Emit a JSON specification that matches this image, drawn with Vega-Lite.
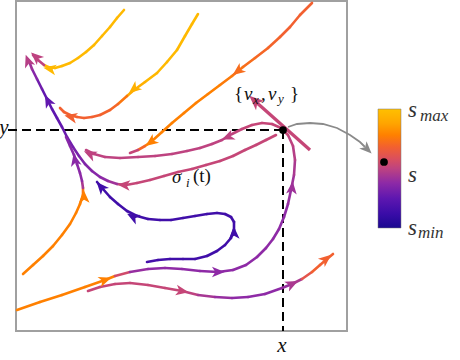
{
"$schema": "https://vega.github.io/schema/vega-lite/v6.json",
"width": 331, "height": 330,
"autosize": {"type": "none"},
"padding": {"left": 16, "top": 1, "right": 113, "bottom": 29},
"config": {"view": {"stroke": "#a0a0a0", "strokeWidth": 2}, "text": {"font": "Times New Roman, Liberation Serif, DejaVu Serif, serif"}},
"datasets": {
"guides": [{"x": 8, "y": 130, "x2": 283, "y2": 130}, {"x": 283, "y": 130, "x2": 283, "y2": 331}],
"curves": [
{"c":"A","i":0,"x":124,"y":10,"s":0.97},{"c":"A","i":1,"x":117,"y":18,"s":0.97},{"c":"A","i":2,"x":110,"y":27,"s":0.97},{"c":"A","i":3,"x":102,"y":36,"s":0.97},{"c":"A","i":4,"x":94,"y":45,"s":0.97},{"c":"A","i":5,"x":86,"y":52,"s":0.97},{"c":"A","i":6,"x":78,"y":58,"s":0.97},{"c":"A","i":7,"x":70,"y":63,"s":0.97},{"c":"A","i":8,"x":62,"y":66,"s":0.97},{"c":"A","i":9,"x":55,"y":68,"s":0.97},{"c":"A","i":10,"x":48,"y":67,"s":0.97},{"c":"A","i":11,"x":44,"y":65,"s":0.5},{"c":"A","i":12,"x":38,"y":60,"s":0.5},{"c":"A","i":13,"x":33,"y":55,"s":0.5},
{"c":"B","i":0,"x":198,"y":14,"s":0.97},{"c":"B","i":1,"x":192,"y":24,"s":0.97},{"c":"B","i":2,"x":185,"y":36,"s":0.97},{"c":"B","i":3,"x":177,"y":50,"s":0.97},{"c":"B","i":4,"x":167,"y":62,"s":0.97},{"c":"B","i":5,"x":157,"y":73,"s":0.96},{"c":"B","i":6,"x":145,"y":82,"s":0.93},{"c":"B","i":7,"x":134,"y":90,"s":0.9},{"c":"B","i":8,"x":127,"y":96,"s":0.75},{"c":"B","i":9,"x":118,"y":104,"s":0.7},{"c":"B","i":10,"x":110,"y":110,"s":0.69},{"c":"B","i":11,"x":100,"y":115,"s":0.68},{"c":"B","i":12,"x":92,"y":117,"s":0.68},{"c":"B","i":13,"x":84,"y":118,"s":0.68},{"c":"B","i":14,"x":77,"y":117,"s":0.68},{"c":"B","i":15,"x":70,"y":115,"s":0.68},{"c":"B","i":16,"x":64,"y":112,"s":0.68},{"c":"B","i":17,"x":60,"y":108,"s":0.68},
{"c":"C","i":0,"x":312,"y":3,"s":0.68},{"c":"C","i":1,"x":300,"y":15,"s":0.68},{"c":"C","i":2,"x":290,"y":27,"s":0.68},{"c":"C","i":3,"x":280,"y":37,"s":0.69},{"c":"C","i":4,"x":268,"y":48,"s":0.7},{"c":"C","i":5,"x":255,"y":58,"s":0.72},{"c":"C","i":6,"x":243,"y":67,"s":0.74},{"c":"C","i":7,"x":232,"y":76,"s":0.76},{"c":"C","i":8,"x":220,"y":85,"s":0.78},{"c":"C","i":9,"x":208,"y":94,"s":0.78},{"c":"C","i":10,"x":196,"y":103,"s":0.78},{"c":"C","i":11,"x":184,"y":113,"s":0.78},{"c":"C","i":12,"x":172,"y":123,"s":0.78},{"c":"C","i":13,"x":162,"y":132,"s":0.78},{"c":"C","i":14,"x":152,"y":141,"s":0.78},{"c":"C","i":15,"x":145,"y":146,"s":0.7},{"c":"C","i":16,"x":138,"y":150,"s":0.52},{"c":"C","i":17,"x":130,"y":153,"s":0.5},
{"c":"L","i":0,"x":17,"y":310,"s":0.78},{"c":"L","i":1,"x":40,"y":302,"s":0.78},{"c":"L","i":2,"x":62,"y":295,"s":0.78},{"c":"L","i":3,"x":85,"y":287,"s":0.78},{"c":"L","i":4,"x":105,"y":280,"s":0.78},{"c":"L","i":5,"x":115,"y":276,"s":0.55},{"c":"L","i":6,"x":130,"y":272,"s":0.4},{"c":"L","i":7,"x":148,"y":269,"s":0.38},{"c":"L","i":8,"x":165,"y":268,"s":0.38},{"c":"L","i":9,"x":182,"y":269,"s":0.38},{"c":"L","i":10,"x":200,"y":271,"s":0.38},{"c":"L","i":11,"x":218,"y":272,"s":0.38},{"c":"L","i":12,"x":233,"y":270,"s":0.38},{"c":"L","i":13,"x":246,"y":265,"s":0.38},{"c":"L","i":14,"x":257,"y":257,"s":0.38},{"c":"L","i":15,"x":266,"y":248,"s":0.38},{"c":"L","i":16,"x":273,"y":239,"s":0.38},{"c":"L","i":17,"x":279,"y":229,"s":0.38},{"c":"L","i":18,"x":284,"y":217,"s":0.38},{"c":"L","i":19,"x":288,"y":204,"s":0.4},{"c":"L","i":20,"x":291,"y":190,"s":0.42},{"c":"L","i":21,"x":294,"y":175,"s":0.45},{"c":"L","i":22,"x":295,"y":160,"s":0.48},{"c":"L","i":23,"x":293,"y":146,"s":0.5},{"c":"L","i":24,"x":288,"y":135,"s":0.52},{"c":"L","i":25,"x":281,"y":128,"s":0.52},{"c":"L","i":26,"x":272,"y":124,"s":0.52},{"c":"L","i":27,"x":262,"y":123,"s":0.52},{"c":"L","i":28,"x":252,"y":125,"s":0.52},{"c":"L","i":29,"x":242,"y":129,"s":0.51},{"c":"L","i":30,"x":232,"y":134,"s":0.5},{"c":"L","i":31,"x":222,"y":140,"s":0.5},{"c":"L","i":32,"x":212,"y":144,"s":0.5},{"c":"L","i":33,"x":200,"y":148,"s":0.5},{"c":"L","i":34,"x":187,"y":151,"s":0.5},{"c":"L","i":35,"x":172,"y":154,"s":0.5},{"c":"L","i":36,"x":155,"y":156,"s":0.5},{"c":"L","i":37,"x":138,"y":157,"s":0.5},{"c":"L","i":38,"x":120,"y":158,"s":0.5},{"c":"L","i":39,"x":105,"y":157,"s":0.5},{"c":"L","i":40,"x":94,"y":154,"s":0.5},{"c":"L","i":41,"x":86,"y":150,"s":0.5},
{"c":"E","i":0,"x":276,"y":135,"s":0.52},{"c":"E","i":1,"x":266,"y":140,"s":0.52},{"c":"E","i":2,"x":256,"y":145,"s":0.52},{"c":"E","i":3,"x":245,"y":150,"s":0.52},{"c":"E","i":4,"x":233,"y":156,"s":0.52},{"c":"E","i":5,"x":220,"y":161,"s":0.52},{"c":"E","i":6,"x":206,"y":165,"s":0.52},{"c":"E","i":7,"x":192,"y":169,"s":0.52},{"c":"E","i":8,"x":178,"y":172,"s":0.52},{"c":"E","i":9,"x":164,"y":176,"s":0.52},{"c":"E","i":10,"x":150,"y":180,"s":0.52},{"c":"E","i":11,"x":137,"y":183,"s":0.52},{"c":"E","i":12,"x":126,"y":185,"s":0.5},{"c":"E","i":13,"x":117,"y":184,"s":0.42},{"c":"E","i":14,"x":108,"y":181,"s":0.38},{"c":"E","i":15,"x":100,"y":177,"s":0.36},{"c":"E","i":16,"x":92,"y":171,"s":0.35},{"c":"E","i":17,"x":85,"y":164,"s":0.34},{"c":"E","i":18,"x":79,"y":156,"s":0.32},{"c":"E","i":19,"x":73,"y":147,"s":0.3},{"c":"E","i":20,"x":67,"y":137,"s":0.28},{"c":"E","i":21,"x":62,"y":127,"s":0.26},{"c":"E","i":22,"x":57,"y":118,"s":0.25},{"c":"E","i":23,"x":52,"y":109,"s":0.25},{"c":"E","i":24,"x":47,"y":99,"s":0.26},{"c":"E","i":25,"x":42,"y":89,"s":0.3},{"c":"E","i":26,"x":37,"y":79,"s":0.36},{"c":"E","i":27,"x":32,"y":69,"s":0.42},{"c":"E","i":28,"x":29,"y":61,"s":0.48},
{"c":"J","i":0,"x":23,"y":274,"s":0.78},{"c":"J","i":1,"x":33,"y":265,"s":0.78},{"c":"J","i":2,"x":43,"y":256,"s":0.78},{"c":"J","i":3,"x":53,"y":246,"s":0.78},{"c":"J","i":4,"x":62,"y":235,"s":0.78},{"c":"J","i":5,"x":70,"y":224,"s":0.78},{"c":"J","i":6,"x":76,"y":213,"s":0.78},{"c":"J","i":7,"x":80,"y":204,"s":0.78},{"c":"J","i":8,"x":83,"y":195,"s":0.75},{"c":"J","i":9,"x":83,"y":188,"s":0.45},{"c":"J","i":10,"x":82,"y":181,"s":0.38},{"c":"J","i":11,"x":80,"y":173,"s":0.37},{"c":"J","i":12,"x":77,"y":164,"s":0.37},{"c":"J","i":13,"x":74,"y":155,"s":0.37},{"c":"J","i":14,"x":70,"y":146,"s":0.36},{"c":"J","i":15,"x":66,"y":137,"s":0.34},
{"c":"K","i":0,"x":147,"y":262,"s":0.16},{"c":"K","i":1,"x":158,"y":260,"s":0.15},{"c":"K","i":2,"x":170,"y":259,"s":0.14},{"c":"K","i":3,"x":183,"y":259,"s":0.14},{"c":"K","i":4,"x":195,"y":259,"s":0.14},{"c":"K","i":5,"x":207,"y":256,"s":0.14},{"c":"K","i":6,"x":217,"y":251,"s":0.14},{"c":"K","i":7,"x":225,"y":245,"s":0.14},{"c":"K","i":8,"x":231,"y":238,"s":0.14},{"c":"K","i":9,"x":234,"y":230,"s":0.14},{"c":"K","i":10,"x":234,"y":222,"s":0.14},{"c":"K","i":11,"x":231,"y":217,"s":0.14},{"c":"K","i":12,"x":225,"y":214,"s":0.14},{"c":"K","i":13,"x":217,"y":213,"s":0.14},{"c":"K","i":14,"x":207,"y":214,"s":0.14},{"c":"K","i":15,"x":195,"y":216,"s":0.14},{"c":"K","i":16,"x":183,"y":218,"s":0.14},{"c":"K","i":17,"x":171,"y":220,"s":0.14},{"c":"K","i":18,"x":160,"y":220,"s":0.14},{"c":"K","i":19,"x":148,"y":219,"s":0.14},{"c":"K","i":20,"x":137,"y":216,"s":0.14},{"c":"K","i":21,"x":127,"y":211,"s":0.14},{"c":"K","i":22,"x":118,"y":204,"s":0.14},{"c":"K","i":23,"x":110,"y":197,"s":0.14},{"c":"K","i":24,"x":103,"y":189,"s":0.14},{"c":"K","i":25,"x":97,"y":182,"s":0.14},
{"c":"N","i":0,"x":88,"y":291,"s":0.52},{"c":"N","i":1,"x":100,"y":287,"s":0.52},{"c":"N","i":2,"x":115,"y":284,"s":0.52},{"c":"N","i":3,"x":130,"y":283,"s":0.52},{"c":"N","i":4,"x":148,"y":285,"s":0.52},{"c":"N","i":5,"x":165,"y":288,"s":0.52},{"c":"N","i":6,"x":182,"y":291,"s":0.5},{"c":"N","i":7,"x":198,"y":295,"s":0.44},{"c":"N","i":8,"x":215,"y":297,"s":0.4},{"c":"N","i":9,"x":232,"y":298,"s":0.38},{"c":"N","i":10,"x":248,"y":297,"s":0.38},{"c":"N","i":11,"x":265,"y":294,"s":0.38},{"c":"N","i":12,"x":282,"y":288,"s":0.4},{"c":"N","i":13,"x":292,"y":284,"s":0.45},{"c":"N","i":14,"x":302,"y":279,"s":0.62},{"c":"N","i":15,"x":312,"y":272,"s":0.68},{"c":"N","i":16,"x":320,"y":265,"s":0.68},{"c":"N","i":17,"x":327,"y":259,"s":0.68},{"c":"N","i":18,"x":333,"y":254,"s":0.68}
],
"arrows": [
{"x":50,"y":69,"a":-80,"s":0.97},{"x":36,"y":57,"a":-48,"s":0.5},{"x":28,"y":61,"a":-20,"s":0.48},{"x":48,"y":101,"a":-27,"s":0.26},
{"x":134,"y":89,"a":-129,"s":0.93},{"x":71,"y":117,"a":-78,"s":0.68},{"x":238,"y":71,"a":-127,"s":0.72},{"x":151,"y":142,"a":-127,"s":0.78},
{"x":90,"y":154,"a":-65,"s":0.5},{"x":228,"y":137,"a":-113,"s":0.5},{"x":124,"y":185,"a":-85,"s":0.52},{"x":84,"y":197,"a":-2,"s":0.78},
{"x":75,"y":160,"a":-12,"s":0.37},{"x":101,"y":187,"a":-41,"s":0.14},{"x":133,"y":217,"a":-62,"s":0.14},{"x":234,"y":233,"a":-2,"s":0.14},
{"x":105,"y":280,"a":71,"s":0.78},{"x":218,"y":272,"a":90,"s":0.38},{"x":292,"y":188,"a":6,"s":0.42},{"x":182,"y":291,"a":100,"s":0.52},
{"x":292,"y":284,"a":64,"s":0.45},{"x":326,"y":259,"a":51,"s":0.68}
],
"vel": [{"x":310,"y":150,"x2":256,"y2":102,"s":0.52}],
"velhead": [{"x":255,"y":101,"a":-48,"s":0.52}],
"gray": [{"i":0,"x":288,"y":127},{"i":1,"x":297,"y":124},{"i":2,"x":310,"y":123},{"i":3,"x":323,"y":124},{"i":4,"x":337,"y":128},{"i":5,"x":350,"y":135},{"i":6,"x":360,"y":142},{"i":7,"x":365,"y":147}],
"grayhead": [{"x":367,"y":149,"a":135}],
"colorbar": [{"x":378,"x2":401,"y":109,"y2":228}],
"dots": [{"x":283,"y":130},{"x":384,"y":162}],
"lab": [{"t":"y","x":4,"y":134},{"t":"x","x":282,"y":352}],
"italic": [{"t":"v","x":244,"y":100},{"t":"v","x":268,"y":100},{"t":"σ","x":172,"y":183}],
"upright": [{"t":"{","x":234,"y":100},{"t":",","x":261,"y":100},{"t":"}","x":290,"y":100},{"t":"(t)","x":193,"y":182}],
"subs": [{"t":"x","x":253,"y":104},{"t":"y","x":278,"y":103},{"t":"i","x":186,"y":187}],
"sbig": [{"t":"s","x":408,"y":117},{"t":"s","x":408,"y":182},{"t":"s","x":408,"y":235}],
"ssub": [{"t":"max","x":420,"y":121},{"t":"min","x":418,"y":238}]
},
"encoding": {
"x": {"field": "x", "type": "quantitative", "scale": {"domain": [16, 347], "nice": false, "zero": false}, "axis": null},
"y": {"field": "y", "type": "quantitative", "scale": {"domain": [1, 331], "reverse": true, "nice": false, "zero": false}, "axis": null}
},
"layer": [
{"data": {"name": "guides"}, "mark": {"type": "rule", "color": "black", "strokeWidth": 2, "strokeDash": [9, 5]},
 "encoding": {"x2": {"field": "x2"}, "y2": {"field": "y2"}}},
{"data": {"name": "curves"},
 "transform": [{"window": [{"op": "lead", "field": "x", "as": "xn"}, {"op": "lead", "field": "y", "as": "yn"}], "groupby": ["c"], "sort": [{"field": "i"}]}, {"filter": "datum.xn != null"}],
 "mark": {"type": "rule", "strokeWidth": 2.6, "strokeCap": "round"},
 "encoding": {"x2": {"field": "xn"}, "y2": {"field": "yn"},
  "color": {"field": "s", "type": "quantitative",
   "scale": {"domain": [0, 0.12, 0.25, 0.38, 0.5, 0.58, 0.68, 0.78, 0.88, 1], "range": ["#1a0890", "#3a0ca8", "#5e17b0", "#8e2aa6", "#be4380", "#da4f5e", "#f26030", "#ff8000", "#ffa500", "#ffc000"], "interpolate": "rgb"},
   "legend": null}}},
{"data": {"name": "vel"}, "mark": {"type": "rule", "strokeWidth": 3.2, "strokeCap": "butt"},
 "encoding": {"x2": {"field": "x2"}, "y2": {"field": "y2"}, "color": {"field": "s", "type": "quantitative", "legend": null}}},
{"data": {"name": "arrows"}, "mark": {"type": "point", "shape": "M0,-1L0.8,0.9L0,0.4L-0.8,0.9Z", "filled": true, "opacity": 1, "size": 180, "strokeWidth": 0},
 "encoding": {"color": {"field": "s", "type": "quantitative", "legend": null}, "angle": {"field": "a", "type": "quantitative", "scale": null}}},
{"data": {"name": "velhead"}, "mark": {"type": "point", "shape": "M0,-1L0.8,0.9L0,0.4L-0.8,0.9Z", "filled": true, "opacity": 1, "size": 240, "strokeWidth": 0},
 "encoding": {"color": {"field": "s", "type": "quantitative", "legend": null}, "angle": {"field": "a", "type": "quantitative", "scale": null}}},
{"data": {"name": "gray"}, "mark": {"type": "line", "color": "#8a8a8a", "strokeWidth": 1.8},
 "encoding": {"order": {"field": "i"}}},
{"data": {"name": "grayhead"}, "mark": {"type": "point", "shape": "M0,-1L0.8,0.9L0,0.4L-0.8,0.9Z", "filled": true, "opacity": 1, "size": 170, "color": "#8a8a8a", "strokeWidth": 0},
 "encoding": {"angle": {"field": "a", "type": "quantitative", "scale": null}}},
{"data": {"name": "colorbar"}, "mark": {"type": "rect", "stroke": "#7a7a7a", "strokeWidth": 0.5,
  "fill": {"gradient": "linear", "x1": 0, "y1": 1, "x2": 0, "y2": 0, "stops": [
   {"offset": 0, "color": "#1a0890"}, {"offset": 0.12, "color": "#3a0ca8"}, {"offset": 0.25, "color": "#5e17b0"}, {"offset": 0.38, "color": "#8e2aa6"}, {"offset": 0.5, "color": "#be4380"}, {"offset": 0.58, "color": "#da4f5e"}, {"offset": 0.68, "color": "#f26030"}, {"offset": 0.78, "color": "#ff8000"}, {"offset": 0.88, "color": "#ffa500"}, {"offset": 1, "color": "#ffc000"}]}},
 "encoding": {"x2": {"field": "x2"}, "y2": {"field": "y2"}}},
{"data": {"name": "dots"}, "mark": {"type": "point", "shape": "circle", "filled": true, "opacity": 1, "size": 60, "color": "black"}},
{"data": {"name": "lab"}, "mark": {"type": "text", "fontStyle": "italic", "fontSize": 21, "align": "center", "baseline": "alphabetic", "color": "#111"},
 "encoding": {"text": {"field": "t"}}},
{"data": {"name": "italic"}, "mark": {"type": "text", "fontStyle": "italic", "fontSize": 19, "align": "left", "baseline": "alphabetic", "color": "#111"},
 "encoding": {"text": {"field": "t"}}},
{"data": {"name": "upright"}, "mark": {"type": "text", "fontSize": 19, "align": "left", "baseline": "alphabetic", "color": "#111"},
 "encoding": {"text": {"field": "t"}}},
{"data": {"name": "subs"}, "mark": {"type": "text", "fontStyle": "italic", "fontSize": 13, "align": "left", "baseline": "alphabetic", "color": "#111"},
 "encoding": {"text": {"field": "t"}}},
{"data": {"name": "sbig"}, "mark": {"type": "text", "fontStyle": "italic", "fontSize": 23, "align": "left", "baseline": "alphabetic", "color": "#333"},
 "encoding": {"text": {"field": "t"}}},
{"data": {"name": "ssub"}, "mark": {"type": "text", "fontStyle": "italic", "fontSize": 17, "align": "left", "baseline": "alphabetic", "color": "#333"},
 "encoding": {"text": {"field": "t"}}}
]
}
